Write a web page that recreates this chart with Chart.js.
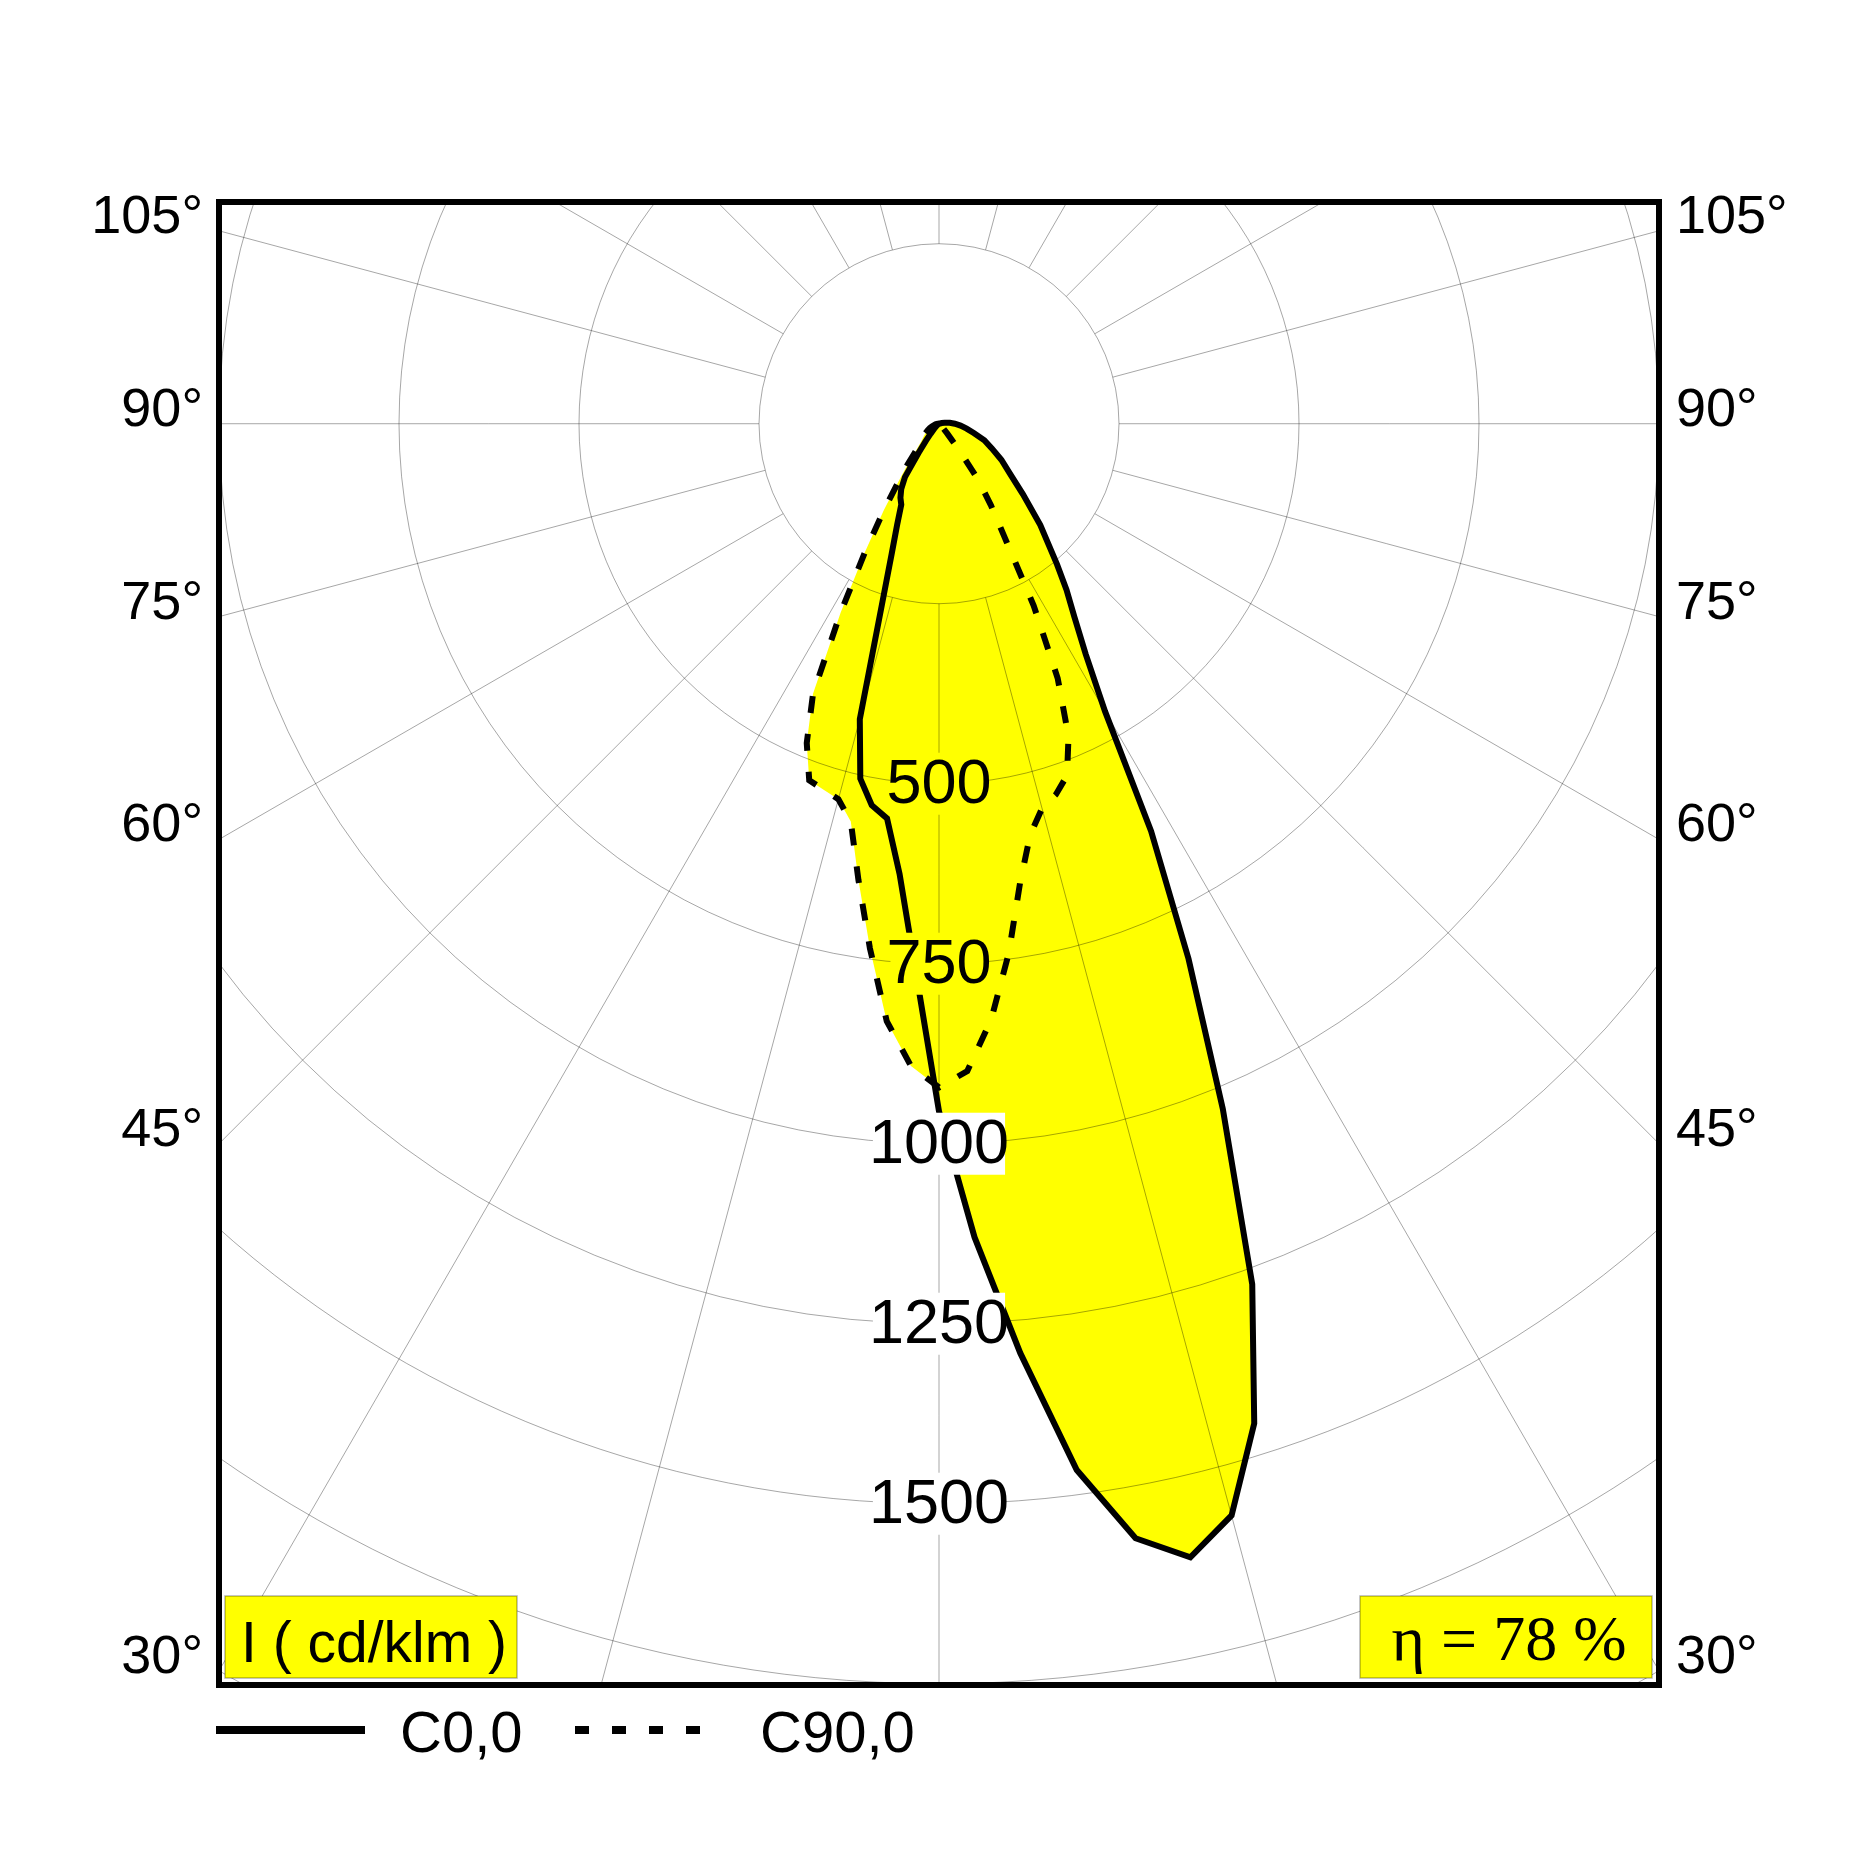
<!DOCTYPE html>
<html>
<head>
<meta charset="utf-8">
<title>Polar intensity diagram</title>
<script src="https://cdn.jsdelivr.net/npm/chart.js@4.4.1/dist/chart.umd.min.js"></script>
<style>
  html, body { margin: 0; padding: 0; background: #fff; }
  #wrap { width: 1875px; height: 1875px; }
</style>
</head>
<body>
<div id="wrap"><canvas id="polarChart" width="1875" height="1875"></canvas></div>
<script>
// ---- photometric table (cd/klm), gamma measured from nadir ----
const gammaAngles = [0, 2.5, 5, 7.5, 10, 12.5, 15, 17.5, 20, 22.5, 25, 27.5, 30, 32.5, 35, 37.5,
                     40, 45, 50, 55, 60, 65, 70, 75, 80, 85, 90, 95, 100, 105, 110, 120, 135, 150, 165, 180];

// C0 / C180 plane (solid curve), right and left half
const c0Values   = [955, 1131, 1296, 1466, 1572, 1613, 1570, 1456, 1272, 1030, 820, 638, 461, 379, 328, 291,
                    255, 199, 152, 120, 100, 81, 67, 50, 39, 30, 22, 15, 8, 4, 0, 0, 0, 0, 0, 0];
const c180Values = [955, 757, 628, 553, 538, 505, 425, 264, 192, 152, 124, 116, 105, 88, 50, 30,
                    18, 8, 4, 2, 0, 0, 0, 0, 0, 0, 0, 0, 0, 0, 0, 0, 0, 0, 0, 0];

// C90 / C270 plane (dashed curve)
const c90Values  = [922, 900, 831, 742, 648, 585, 553, 540, 520, 470, 390, 285, 183, 134, 95, 45,
                    18, 6, 3, 0, 0, 0, 0, 0, 0, 0, 0, 0, 0, 0, 0, 0, 0, 0, 0, 0];
const c270Values = [922, 893, 833, 735, 644, 566, 540, 533, 527, 480, 414, 296, 205, 143, 98, 72,
                    52, 35, 28, 23, 18, 14, 10, 7, 5, 3, 2, 0, 0, 0, 0, 0, 0, 0, 0, 0];

// grid + labels
const ringValues  = [250, 500, 750, 1000, 1250, 1500, 1750, 2000, 2250];
const ringLabels  = [500, 750, 1000, 1250, 1500];
const angleLabels = [30, 45, 60, 75, 90, 105];
const legendNames = ["C0,0", "C90,0"];
const unitLabel = "I ( cd/klm )";
const efficiencyLabel = "\u03b7 = 78 %";

const YELLOW = "#ffff00";
const GRID = "rgba(0,0,0,0.35)";
const SANS = '"Liberation Sans", Arial, sans-serif';
const SERIF = '"Liberation Serif", "Times New Roman", serif';

// polar -> cartesian, nadir straight down; side -1 = left half-plane
function toXY(gamma, value, side) {
  const a = gamma * Math.PI / 180;
  return { x: side * value * Math.sin(a), y: -value * Math.cos(a) };
}

// closed outline: left half from 180 down to 0, then right half from 0 back up to 180
function buildOutline(leftVals, rightVals) {
  const pts = [];
  for (let i = gammaAngles.length - 1; i >= 0; i--) pts.push(toXY(gammaAngles[i], leftVals[i], -1));
  for (let i = 1; i < gammaAngles.length; i++) pts.push(toXY(gammaAngles[i], rightVals[i], 1));
  return pts;
}

function centerOf(chart) {
  const x = chart.scales.x, y = chart.scales.y;
  const cx = x.getPixelForValue(0);
  const cy = y.getPixelForValue(0);
  const k = x.getPixelForValue(1) - cx; // px per cd
  return { cx, cy, k };
}

// rings + rays, drawn on top of the yellow fill but under the curves
const polarGrid = {
  id: "polarGrid",
  beforeDatasetsDraw(chart) {
    const { ctx, chartArea: area } = chart;
    const { cx, cy, k } = centerOf(chart);
    ctx.save();
    ctx.beginPath();
    ctx.rect(area.left, area.top, area.width, area.height);
    ctx.clip();
    ctx.strokeStyle = GRID;
    ctx.lineWidth = 1;
    ringValues.forEach(r => {
      ctx.beginPath();
      ctx.arc(cx, cy, r * k, 0, Math.PI * 2);
      ctx.stroke();
    });
    const r0 = ringValues[0] * k;
    for (let g = 0; g < 360; g += 15) {
      const a = g * Math.PI / 180;
      ctx.beginPath();
      ctx.moveTo(cx + Math.sin(a) * r0, cy + Math.cos(a) * r0);
      ctx.lineTo(cx + Math.sin(a) * 3000, cy + Math.cos(a) * 3000);
      ctx.stroke();
    }
    ctx.restore();
  },

  // intensity labels along nadir, background picks up the fill colour
  afterDatasetsDraw(chart) {
    const { ctx } = chart;
    const { cx, cy, k } = centerOf(chart);

    const paths = chart.data.datasets.map((ds, i) => {
      const p = new Path2D();
      chart.getDatasetMeta(i).data.forEach((pt, j) => {
        if (j === 0) p.moveTo(pt.x, pt.y); else p.lineTo(pt.x, pt.y);
      });
      p.closePath();
      return p;
    });

    ctx.save();
    ctx.font = "63px " + SANS;
    ctx.textAlign = "center";
    ctx.textBaseline = "middle";
    ringLabels.forEach(v => {
      const py = cy + v * k;
      const inside = paths.some(p => ctx.isPointInPath(p, cx, py));
      const txt = String(v);
      const w = ctx.measureText(txt).width - 8;
      ctx.fillStyle = inside ? YELLOW : "#fff";
      ctx.fillRect(cx - w / 2, py - 31, w, 62);
      ctx.fillStyle = "#000";
      ctx.fillText(txt, cx, py + 2);
    });
    ctx.restore();
  },

  afterDraw(chart) {
    const { ctx, chartArea: area } = chart;
    const { cx, cy } = centerOf(chart);
    ctx.save();

    // frame
    ctx.strokeStyle = "#000";
    ctx.lineWidth = 6;
    ctx.strokeRect(area.left, area.top, area.width, area.height);

    // angle labels where the rays meet the frame
    ctx.fillStyle = "#000";
    ctx.font = "54px " + SANS;
    ctx.textBaseline = "alphabetic";
    angleLabels.forEach(g => {
      const a = g * Math.PI / 180;
      const cot = Math.cos(a) / Math.sin(a);
      const yl = cy + (cx - area.left) * cot;
      const yr = cy + (area.right - cx) * cot;
      ctx.textAlign = "right";
      ctx.fillText(g + "\u00b0", area.left - 16, yl + 2);
      ctx.textAlign = "left";
      ctx.fillText(g + "\u00b0", area.right + 17, yr + 2);
    });

    // yellow info boxes
    const boxY = area.bottom - 89, boxH = 82, boxW = 292;
    const drawBox = (bx, text, font, baseY) => {
      ctx.fillStyle = YELLOW;
      ctx.fillRect(bx, boxY, boxW, boxH);
      ctx.strokeStyle = "rgba(0,0,0,0.3)";
      ctx.lineWidth = 1.5;
      ctx.strokeRect(bx, boxY, boxW, boxH);
      ctx.fillStyle = "#000";
      ctx.font = font;
      ctx.textAlign = "center";
      ctx.fillText(text, bx + boxW / 2 + 3, baseY);
    };
    drawBox(area.left + 6, unitLabel, "57px " + SANS, area.bottom - 23);
    drawBox(area.right - 299, efficiencyLabel, "64px " + SERIF, area.bottom - 25);

    // legend under the frame
    const ly = area.bottom + 45;
    ctx.strokeStyle = "#000";
    ctx.lineWidth = 8;
    ctx.beginPath();
    ctx.moveTo(area.left - 3, ly);
    ctx.lineTo(area.left + 146, ly);
    ctx.stroke();
    ctx.setLineDash([14, 23]);
    ctx.beginPath();
    ctx.moveTo(area.left + 356, ly);
    ctx.lineTo(area.left + 484, ly);
    ctx.stroke();
    ctx.setLineDash([]);
    ctx.fillStyle = "#000";
    ctx.font = "58px " + SANS;
    ctx.textAlign = "left";
    ctx.fillText(legendNames[0], area.left + 181, ly + 22);
    ctx.fillText(legendNames[1], area.left + 541, ly + 22);

    ctx.restore();
  }
};

const lineBase = {
  borderColor: "#000",
  borderWidth: 6,
  backgroundColor: YELLOW,
  fill: "shape",
  pointRadius: 0,
  pointHoverRadius: 0,
  tension: 0
};

new Chart(document.getElementById("polarChart"), {
  type: "line",
  data: {
    datasets: [
      Object.assign({ label: legendNames[0], data: buildOutline(c180Values, c0Values) }, lineBase),
      Object.assign({ label: legendNames[1], data: buildOutline(c270Values, c90Values), borderDash: [17, 21] }, lineBase)
    ]
  },
  options: {
    responsive: false,
    animation: false,
    devicePixelRatio: 1,
    layout: { padding: { left: 219, right: 216, top: 202, bottom: 190 } },
    scales: {
      x: { type: "linear", min: -1000, max: 1000, display: false },
      y: { type: "linear", min: -1752, max: 308, display: false }
    },
    plugins: {
      legend: { display: false },
      tooltip: { enabled: false },
      filler: { drawTime: "beforeDatasetsDraw" }
    }
  },
  plugins: [polarGrid]
});
</script>
</body>
</html>
